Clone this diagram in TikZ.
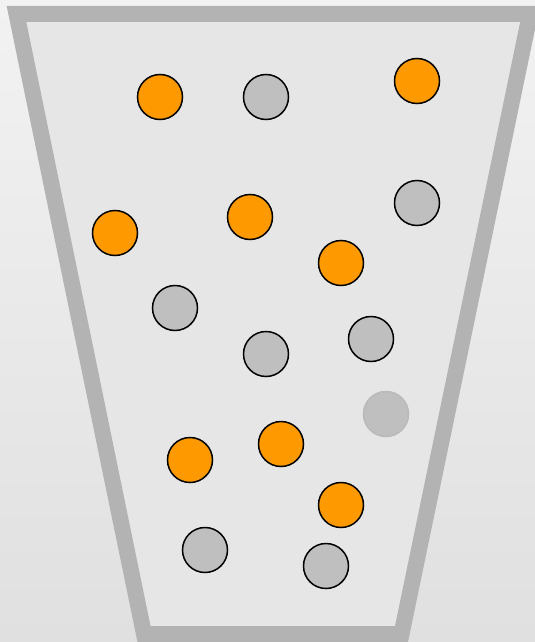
\documentclass[tikz,border=0pt]{standalone}
\definecolor{bgtop}{HTML}{F2F2F2}
\definecolor{bgbot}{HTML}{E0E0E0}
\definecolor{cupfill}{HTML}{E6E6E6}
\definecolor{cupedge}{HTML}{B3B3B3}
\definecolor{ballorange}{HTML}{FF9900}
\definecolor{ballgray}{HTML}{BFBFBF}
\tikzset{
  ball/.style={circle, minimum size=45pt, inner sep=0pt, line width=1.5pt, draw=black},
  orangeball/.style={ball, fill=ballorange},
  grayball/.style={ball, fill=ballgray},
  fadedball/.style={circle, minimum size=45pt, inner sep=0pt, line width=1.5pt, draw=black!27, fill=black!25},
  cup/.style={draw=cupedge, fill=cupfill, line width=16pt, line join=miter}
}
\begin{document}
\begin{tikzpicture}[x=1pt, y=-1pt]
\useasboundingbox (0,0) rectangle (535,642);
\clip (0,0) rectangle (535,642);
\shade[top color=bgtop, bottom color=bgbot] (0,0) rectangle (535,642);
\draw[cup] (16.5,14) -- (530,14) -- (401.5,634) -- (144,634) -- cycle;
% orange balls
\node[orangeball] (o1) at (160,97) {};
\node[orangeball] (o2) at (417,81) {};
\node[orangeball] (o3) at (115,233) {};
\node[orangeball] (o4) at (250,217) {};
\node[orangeball] (o5) at (341,263) {};
\node[orangeball] (o6) at (190,460) {};
\node[orangeball] (o7) at (281,444) {};
\node[orangeball] (o8) at (341,505) {};
% gray balls
\node[grayball] (g1) at (266,97) {};
\node[grayball] (g2) at (417,203) {};
\node[grayball] (g3) at (175,308) {};
\node[grayball] (g4) at (266,354) {};
\node[grayball] (g5) at (371,339) {};
\node[grayball] (g6) at (205,550) {};
\node[grayball] (g7) at (326,566) {};
% faded ball
\node[fadedball] (f1) at (386,414) {};
\end{tikzpicture}
\end{document}
